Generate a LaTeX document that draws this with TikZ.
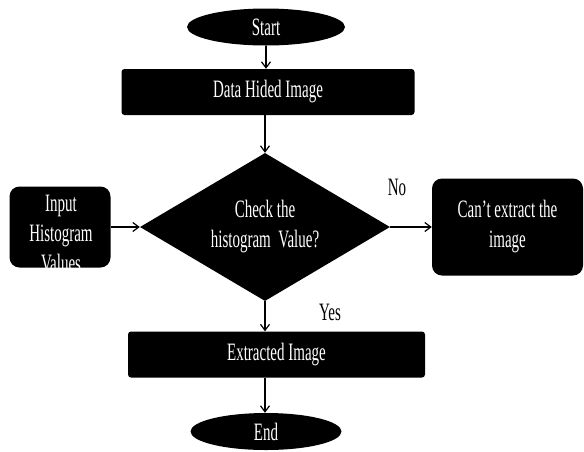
\documentclass[tikz,border=0pt]{standalone}
\usepackage{fontspec}
\setmainfont{Liberation Serif}[FakeStretch=0.6]
\usetikzlibrary{shapes.geometric,arrows.meta}

\begin{document}
\begin{tikzpicture}[x=1pt, y=-1pt,
    every node/.style={font=\fontsize{25}{30}\selectfont},
    term/.style={ellipse, fill=black, text=white, inner sep=0pt, minimum height=37pt},
    procbox/.style={rectangle, rounded corners=3pt, fill=black, text=white, inner sep=0pt, minimum height=46pt},
    sidebox/.style={rectangle, rounded corners=10pt, fill=black, text=white, inner sep=0pt},
    decide/.style={diamond, aspect=1.7, fill=black, text=white, inner sep=0pt, align=center,
        minimum width=250pt, minimum height=148pt},
    flow/.style={-{Straight Barb[length=6pt,width=9pt]}, line width=1.2pt}]
        \useasboundingbox (0,0) rectangle (584,451);

        % Main column
        \node[term, minimum width=158pt] (start) at (266,27) {Start};
        \node[procbox, minimum width=293pt] (data) at (268,92) {Data Hided Image};
        \node[decide] (check) at (265,227) {Check the\\histogram\ \ Value?};
        \node[procbox, minimum width=297pt] (extract) at (276.5,354.5) {Extracted Image};
        \node[term, minimum width=151pt] (end) at (266,431.5) {End};

        % Side boxes
        \node[sidebox, minimum width=101pt, minimum height=81pt] (input) at (60,227) {};
        \node[text=white, align=center] (inputtext) at (61,233) {Input\\Histogram\\Values};
        \node[sidebox, align=center, minimum width=151pt, minimum height=97pt] (cant) at (507.5,227)
            {Can’t extract the\\image};

        % Branch labels
        \node (no) at (397,187) {No};
        \node (yes) at (330,312) {Yes};

        % Connectors
        \draw[flow] (start) -- (start |- data.north);
        \draw[flow] (data.south -| check) -- (check.north);
        \draw[flow] (input.east) -- (check.west);
        \draw[flow] (check.east) -- (cant.west);
        \draw[flow] (check.south) -- (check |- extract.north);
        \draw[flow] (extract.south -| check) -- (check |- end.north);
    \end{tikzpicture}
\end{document}
